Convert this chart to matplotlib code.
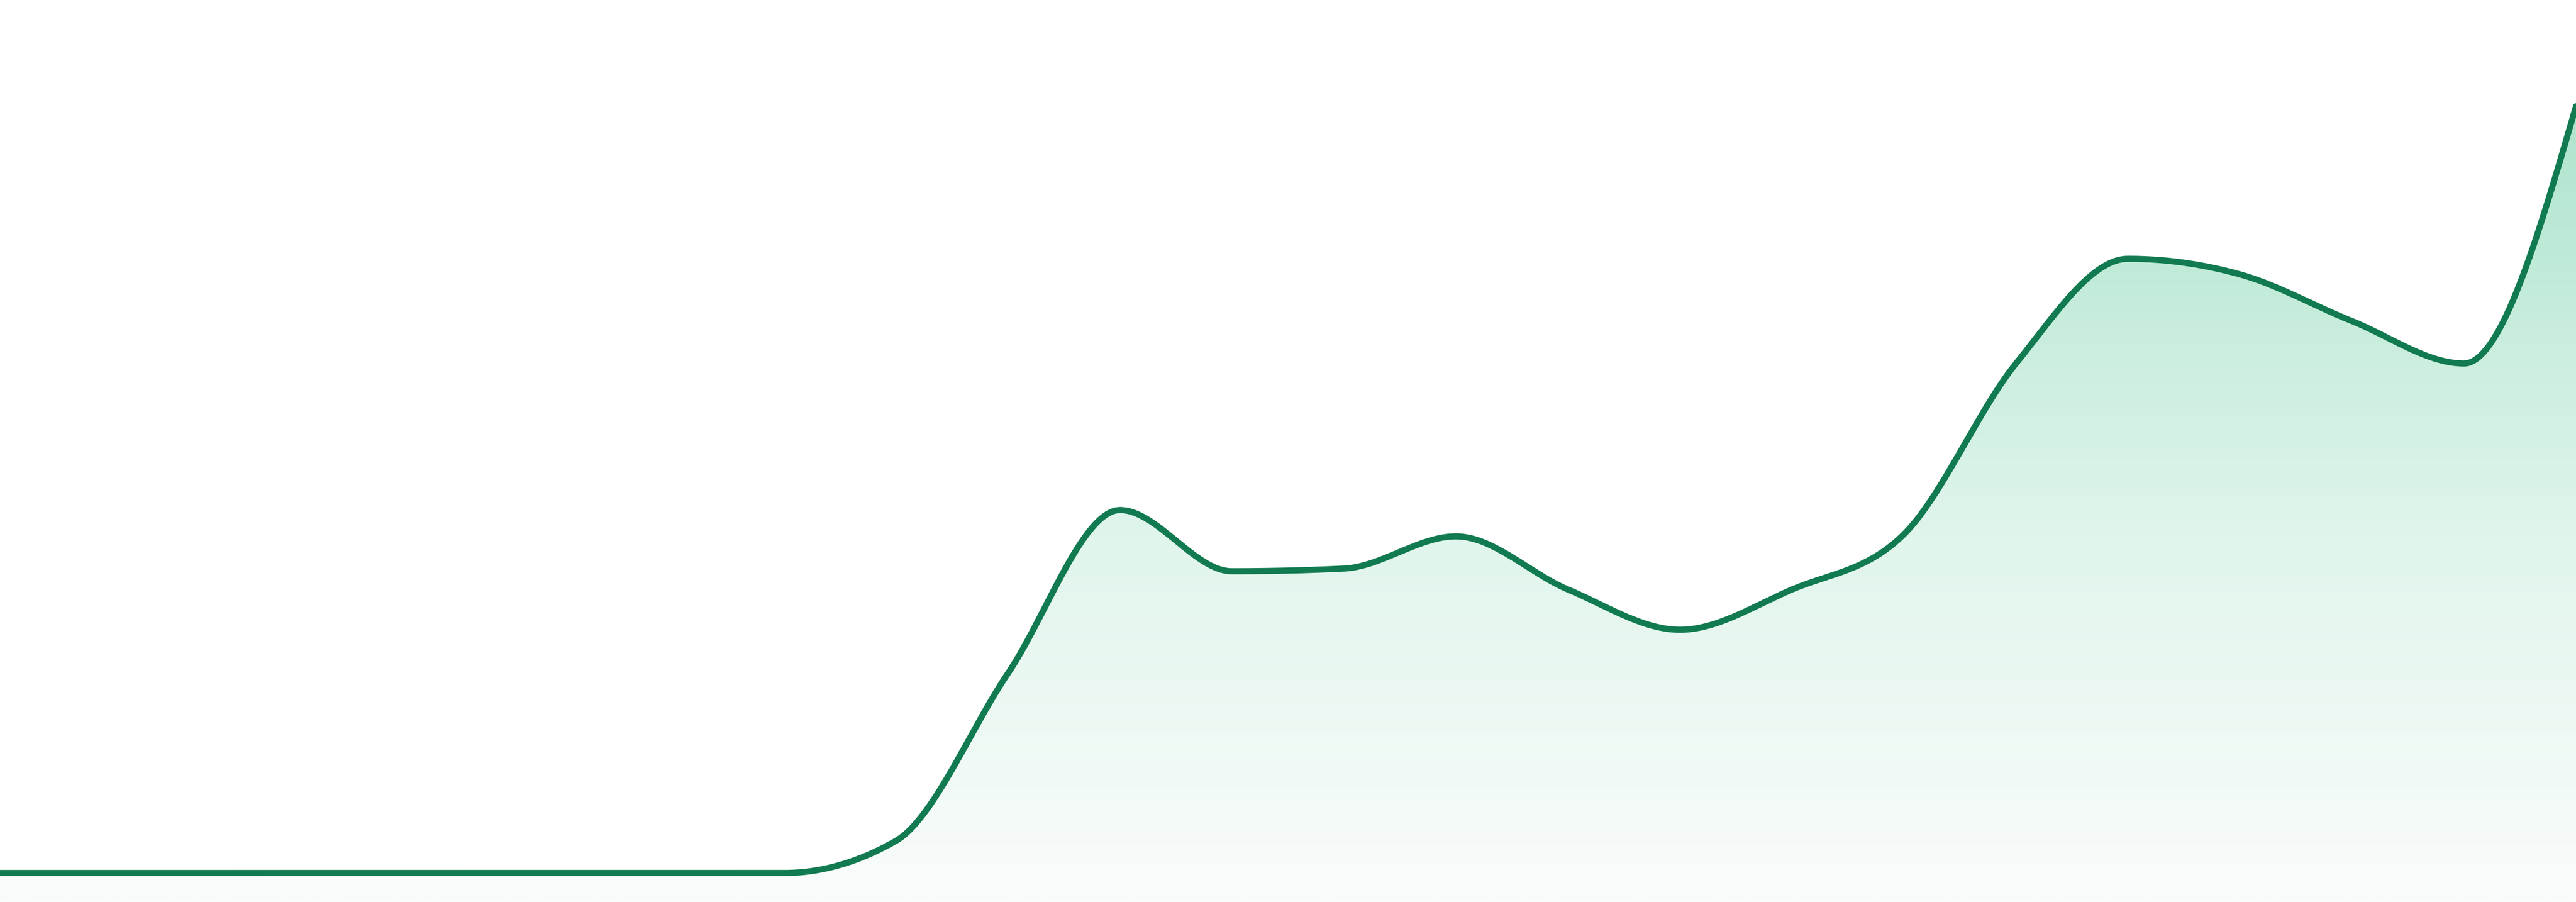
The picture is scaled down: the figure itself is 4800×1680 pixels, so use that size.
import numpy as np
import matplotlib
matplotlib.use('Agg')
import matplotlib.pyplot as plt
from matplotlib.colors import LinearSegmentedColormap
from matplotlib.patches import Polygon

# values, 24 evenly spaced points
vals = [0, 0, 0, 0, 0, 0, 0, 0, 60, 372, 676, 562, 567, 627, 528, 453,
        528, 631, 949, 1144, 1115, 1028, 949, 1428]
xs = np.arange(len(vals))

line_color = '#117a50'
fill_stops = ['#aee4cd', '#e0f5ec', '#fafcfb']


def monotone_x(x, y, n=60):
    # same idea as d3 curveMonotoneX
    x = np.asarray(x, float)
    y = np.asarray(y, float)
    h = np.diff(x)
    s = np.diff(y) / h
    t = np.zeros(len(x))
    for i in range(1, len(x) - 1):
        s0, s1 = s[i - 1], s[i]
        p = (s0 * h[i] + s1 * h[i - 1]) / (h[i - 1] + h[i])
        t[i] = (np.sign(s0) + np.sign(s1)) * min(abs(s0), abs(s1), 0.5 * abs(p))
    t[0] = (3 * s[0] - t[1]) / 2
    t[-1] = (3 * s[-1] - t[-2]) / 2
    px, py = [], []
    u = np.linspace(0, 1, n)
    for i in range(len(x) - 1):
        dx = h[i]
        p0 = (x[i], y[i])
        p1 = (x[i] + dx / 3, y[i] + dx * t[i] / 3)
        p2 = (x[i + 1] - dx / 3, y[i + 1] - dx * t[i + 1] / 3)
        p3 = (x[i + 1], y[i + 1])
        b = [(1 - u) ** 3, 3 * (1 - u) ** 2 * u, 3 * (1 - u) * u ** 2, u ** 3]
        bx = b[0] * p0[0] + b[1] * p1[0] + b[2] * p2[0] + b[3] * p3[0]
        by = b[0] * p0[1] + b[1] * p1[1] + b[2] * p2[1] + b[3] * p3[1]
        if i > 0:
            bx, by = bx[1:], by[1:]
        px.append(bx)
        py.append(by)
    return np.concatenate(px), np.concatenate(py)


cx, cy = monotone_x(xs, vals)

ymin, ymax = -54, 1626

fig = plt.figure(figsize=(16, 5.6), dpi=300)
ax = fig.add_axes([0, 0, 1, 1])
ax.set_xlim(xs[0], xs[-1])
ax.set_ylim(ymin, ymax)
ax.axis('off')

# gradient fill under the curve
poly = Polygon(np.column_stack([np.r_[cx, cx[-1], cx[0]], np.r_[cy, ymin, ymin]]),
               closed=True, facecolor='none', edgecolor='none')
ax.add_patch(poly)
cmap = LinearSegmentedColormap.from_list('g', [(0, fill_stops[0]), (0.54, fill_stops[1]), (1, fill_stops[2])])
grad = np.linspace(0, 1, 512).reshape(-1, 1)
img = ax.imshow(grad, cmap=cmap, aspect='auto', origin='upper',
                extent=[xs[0], xs[-1], ymin, max(vals)], interpolation='bilinear', zorder=1)
img.set_clip_path(poly)

ax.plot(cx, cy, color=line_color, linewidth=2.75, solid_capstyle='round', solid_joinstyle='round', zorder=2)

fig.savefig('out.png', dpi=300, facecolor='white')
